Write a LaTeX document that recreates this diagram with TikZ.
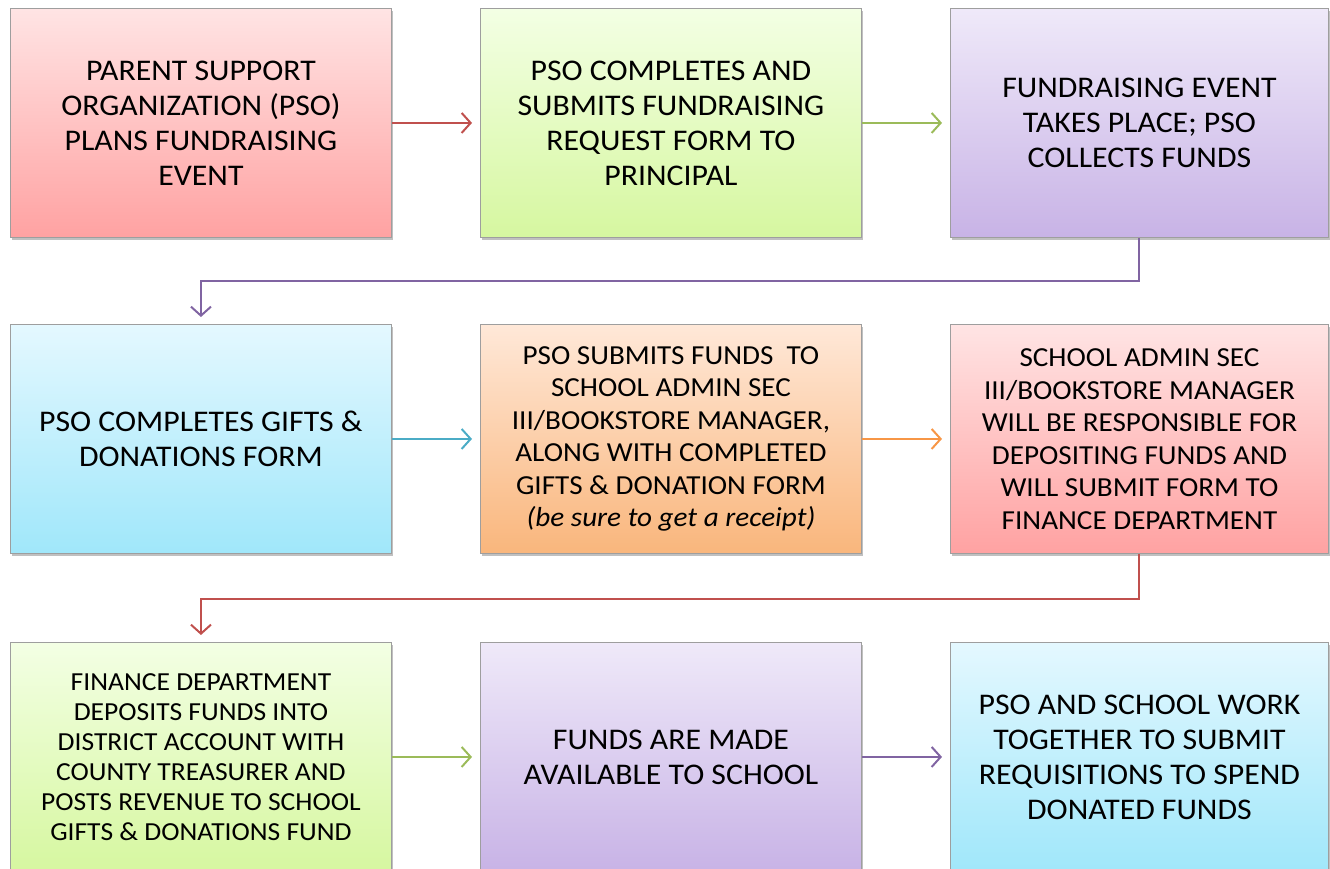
\documentclass[tikz,border=0pt]{standalone}
\usepackage{fontspec}
\setmainfont{Carlito}[FakeStretch=1.06]
\usetikzlibrary{shadows,arrows.meta}
\definecolor{pinkT}{HTML}{FFE4E4}\definecolor{pinkB}{HTML}{FFA2A2}
\definecolor{greenT}{HTML}{F3FFE4}\definecolor{greenB}{HTML}{D6F7A0}
\definecolor{purpT}{HTML}{EFE9F9}\definecolor{purpB}{HTML}{C8B3E6}
\definecolor{blueT}{HTML}{E4F8FF}\definecolor{blueB}{HTML}{A0E7FA}
\definecolor{oranT}{HTML}{FFE8D8}\definecolor{oranB}{HTML}{F9B67C}
\definecolor{cRed}{HTML}{C0504D}\definecolor{cGreen}{HTML}{9BBB59}
\definecolor{cPurp}{HTML}{8064A2}\definecolor{cBlue}{HTML}{4BACC6}
\definecolor{cOran}{HTML}{F79646}
\tikzset{
  box/.style={draw=black!38, line width=0.9pt, minimum width=381pt, minimum height=229pt,
    anchor=north west, align=center, inner sep=0pt, shading=axis, shading angle=0,
    drop shadow={shadow xshift=2pt, shadow yshift=-3pt, fill=black!55, opacity=0.45}},
  pinkbox/.style={box, top color=pinkT, bottom color=pinkB},
  greenbox/.style={box, top color=greenT, bottom color=greenB},
  purpbox/.style={box, top color=purpT, bottom color=purpB},
  bluebox/.style={box, top color=blueT, bottom color=blueB},
  oranbox/.style={box, top color=oranT, bottom color=oranB},
  big/.style={font=\fontsize{30}{35}\selectfont},
  mid/.style={font=\fontsize{27.5}{32.5}\selectfont},
  small/.style={font=\fontsize{26}{30}\selectfont},
  arr/.style={line width=2pt, -{Straight Barb[length=9pt,width=20pt,line width=2pt]}}
}
\begin{document}
\begin{tikzpicture}[x=1pt,y=-1pt]
\useasboundingbox (0,0) rectangle (1330,869);
\clip (0,0) rectangle (1330,869);
\node[pinkbox, big] (b1) at (10,8) {PARENT SUPPORT\\ORGANIZATION (PSO)\\PLANS FUNDRAISING\\EVENT};
\node[greenbox, big] (b2) at (480,8) {PSO COMPLETES AND\\SUBMITS FUNDRAISING\\REQUEST FORM TO\\PRINCIPAL};
\node[purpbox, big, minimum width=378pt] (b3) at (950,8) {FUNDRAISING EVENT\\TAKES PLACE; PSO\\COLLECTS FUNDS};
\node[bluebox, big] (b4) at (10,324) {PSO COMPLETES GIFTS \&\\DONATIONS FORM};
\node[oranbox, mid] (b5) at (480,324) {PSO SUBMITS FUNDS\ \ TO\\SCHOOL ADMIN SEC\\III/BOOKSTORE MANAGER,\\ALONG WITH COMPLETED\\GIFTS \& DONATION FORM\\\textit{(be sure to get a receipt)}};
\node[pinkbox, mid, minimum width=378pt] (b6) at (950,324) {SCHOOL ADMIN SEC\\III/BOOKSTORE MANAGER\\WILL BE RESPONSIBLE FOR\\DEPOSITING FUNDS AND\\WILL SUBMIT FORM TO\\FINANCE DEPARTMENT};
\node[greenbox, small] (b7) at (10,642) {FINANCE DEPARTMENT\\DEPOSITS FUNDS INTO\\DISTRICT ACCOUNT WITH\\COUNTY TREASURER AND\\POSTS REVENUE TO SCHOOL\\GIFTS \& DONATIONS FUND};
\node[purpbox, big] (b8) at (480,642) {FUNDS ARE MADE\\AVAILABLE TO SCHOOL};
\node[bluebox, big, minimum width=378pt] (b9) at (950,642) {PSO AND SCHOOL WORK\\TOGETHER TO SUBMIT\\REQUISITIONS TO SPEND\\DONATED FUNDS};
\draw[arr, cRed] (b1.east) -- ([xshift=-8pt]b2.west);
\draw[arr, cGreen] (b2.east) -- ([xshift=-8pt]b3.west);
\draw[arr, cPurp] (b3.south) -- ++(0,43) -| ([yshift=7pt]b4.north);
\draw[arr, cBlue] (b4.east) -- ([xshift=-8pt]b5.west);
\draw[arr, cOran] (b5.east) -- ([xshift=-8pt]b6.west);
\draw[arr, cRed] (b6.south) -- ++(0,45) -| ([yshift=7pt]b7.north);
\draw[arr, cGreen] (b7.east) -- ([xshift=-8pt]b8.west);
\draw[arr, cPurp] (b8.east) -- ([xshift=-8pt]b9.west);
\end{tikzpicture}
\end{document}
